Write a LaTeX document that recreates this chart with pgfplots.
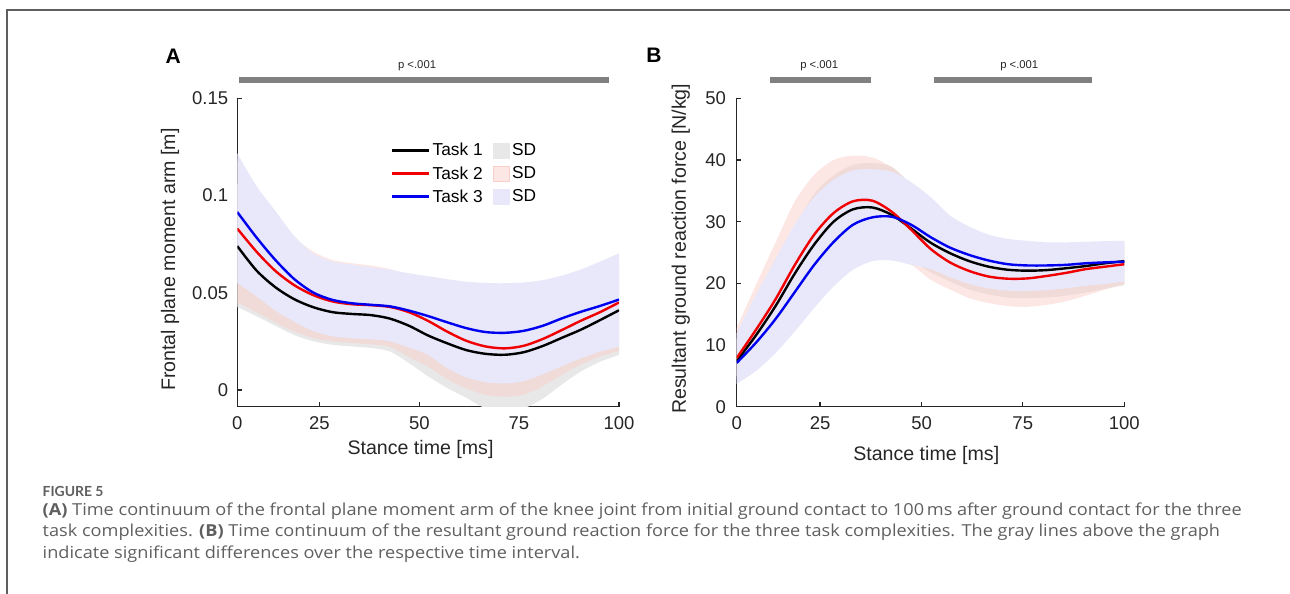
\documentclass[border=0pt]{standalone}
\usepackage{fontspec}
\setmainfont{Liberation Sans}
\newfontfamily\figfont{Lato}
\newfontfamily\capfont[FakeStretch=1.1]{Open Sans}
\usepackage{pgfplots}
\usepackage{pgfplotstable}
\pgfplotsset{compat=1.18}
\usepgfplotslibrary{fillbetween}

\definecolor{axgray}{RGB}{38,38,38}
\definecolor{sigbar}{RGB}{128,128,128}
\definecolor{sdgray}{RGB}{232,232,232}
\definecolor{sdpink}{RGB}{249,207,201}
\definecolor{sdblue}{RGB}{232,232,250}
\definecolor{tred}{RGB}{240,0,0}
\definecolor{tblue}{RGB}{0,0,240}
\definecolor{capgray}{RGB}{95,95,95}
\definecolor{frame}{RGB}{95,95,95}

% panel A: frontal plane moment arm (m); x is the drawn position of stance time
% columns: mean task 1-3, then upper/lower SD limit per task
\pgfplotstableread{
x    m1     m2     m3     u1     l1      u2     l2      u3     l3
0    0.0740 0.0830 0.0915 0.1060 0.0427  0.1180 0.0450  0.1217 0.0550
5    0.0615 0.0712 0.0785 0.0900 0.0380  0.1020 0.0400  0.1050 0.0482
10   0.0528 0.0612 0.0668 0.0780 0.0330  0.0900 0.0348  0.0920 0.0408
15   0.0466 0.0538 0.0569 0.0690 0.0282  0.0785 0.0300  0.0790 0.0351
20   0.0425 0.0487 0.0500 0.0630 0.0250  0.0710 0.0267  0.0700 0.0302
25   0.0400 0.0455 0.0463 0.0600 0.0232  0.0668 0.0250  0.0660 0.0276
30   0.0391 0.0441 0.0446 0.0580 0.0224  0.0652 0.0242  0.0645 0.0266
35   0.0385 0.0436 0.0438 0.0570 0.0216  0.0640 0.0235  0.0632 0.0261
40   0.0367 0.0427 0.0430 0.0550 0.0198  0.0622 0.0222  0.0618 0.0250
45   0.0330 0.0400 0.0408 0.0520 0.0138  0.0590 0.0170  0.0600 0.0218
50   0.0280 0.0355 0.0380 0.0490 0.0070  0.0560 0.0120  0.0585 0.0180
55   0.0240 0.0300 0.0348 0.0470 0.0010  0.0530 0.0055  0.0570 0.0112
60   0.0205 0.0253 0.0318 0.0460 -0.0040 0.0500 0.0008  0.0557 0.0065
65   0.0186 0.0224 0.0298 0.0460 -0.0095 0.0480 -0.0024 0.0550 0.0040
70   0.0181 0.0214 0.0294 0.0470 -0.0115 0.0475 -0.0034 0.0549 0.0034
75   0.0194 0.0227 0.0304 0.0480 -0.0095 0.0480 -0.0024 0.0553 0.0045
80   0.0226 0.0262 0.0330 0.0500 -0.0045 0.0500 0.0020  0.0565 0.0080
85   0.0268 0.0308 0.0368 0.0520 0.0028  0.0530 0.0078  0.0588 0.0122
90   0.0310 0.0356 0.0402 0.0540 0.0095  0.0570 0.0130  0.0620 0.0163
95   0.0359 0.0400 0.0432 0.0570 0.0145  0.0610 0.0172  0.0660 0.0197
100  0.0410 0.0450 0.0465 0.0630 0.0180  0.0660 0.0200  0.0703 0.0222
}\dataA

% panel B: resultant ground reaction force (N/kg)
\pgfplotstableread{
x    m1    m2    m3    u1   l1   u2   l2   u3    l3
0    7.40  7.90  7.10  11.0 5.0  12.8 4.5  11.9  3.7
5    11.60 12.50 10.40 17.0 7.6  19.8 7.0  18.2  5.8
10   16.30 17.40 14.20 23.0 11.0 26.6 10.5 23.9  8.7
15   21.60 23.00 18.60 29.0 15.0 33.3 14.5 29.6  12.2
20   26.30 27.90 23.00 34.5 19.0 37.6 18.5 34.0  16.0
25   30.00 31.40 26.70 37.5 22.0 40.0 21.5 36.8  19.5
30   32.00 33.30 29.50 39.2 24.0 40.7 23.5 38.3  22.2
35   32.30 33.40 30.70 39.5 24.8 40.4 24.3 38.5  23.6
40   31.10 31.60 30.80 38.9 24.6 38.8 24.0 38.1  23.7
45   28.90 28.70 29.50 36.0 23.6 36.0 23.0 36.4  23.0
50   26.60 25.60 27.50 32.5 21.8 32.5 20.6 34.0  22.3
55   24.90 23.40 25.80 29.5 20.3 29.5 19.0 31.0  21.0
60   23.60 22.00 24.60 27.8 19.0 27.3 17.6 29.2  19.9
65   22.70 21.10 23.70 26.8 18.2 26.0 16.8 27.9  19.2
70   22.20 20.75 23.10 26.3 17.7 25.3 16.3 27.2  18.8
75   22.05 20.80 22.90 26.1 17.6 25.0 16.2 26.9  18.75
80   22.15 21.20 22.90 26.1 17.7 25.0 16.5 26.65 18.9
85   22.45 21.70 23.00 26.2 18.0 25.2 17.1 26.65 19.2
90   22.80 22.30 23.25 26.4 18.5 25.5 18.0 26.75 19.6
95   23.25 22.70 23.40 26.6 19.1 25.9 19.0 26.85 19.9
100  23.60 23.10 23.50 26.8 19.7 26.2 19.9 26.9  20.3
}\dataB

\pgfplotsset{
  panel/.style={
    scale only axis, anchor=south west,
    xmin=0, xmax=100,
    axis x line*=bottom, axis y line*=left,
    axis line style={axgray, line width=1.2pt, -},
    tick style={axgray, line width=1.2pt},
    tick align=inside, major tick length=4.5pt,
    xtick={0,21.5,47.7,73.8,100}, xticklabels={0,25,50,75,100},
    ticklabel style={font=\fontsize{18.5}{18.5}\selectfont, text=axgray, inner sep=0pt},
    xticklabel style={yshift=-10pt},
    label style={font=\fontsize{19.6}{19.6}\selectfont, text=axgray, anchor=center},
    clip mode=individual,
  },
  sd/.style={draw=none, smooth, forget plot},
  task/.style={line width=2.4pt, smooth, forget plot},
}

\begin{document}
\begin{tikzpicture}
\draw[frame, line width=1.3pt] (7pt,-594pt) -- (7pt,-10pt) -- (1290pt,-10pt);

\node[font=\bfseries\fontsize{21}{21}\selectfont] at (173.3pt,-55.8pt) {A};
\node[font=\bfseries\fontsize{21}{21}\selectfont] at (654pt,-55pt) {B};

% ---------- A ----------
\begin{axis}[panel,
  at={(237.3pt,-406.7pt)}, width=381.7pt, height=308.4pt,
  ymin=-0.0086, ymax=0.15,
  ytick={0,0.05,0.1,0.15}, yticklabels={0,0.05,0.1,0.15},
  yticklabel style={xshift=-9pt},
  xlabel={Stance time [ms]}, ylabel={Frontal plane moment arm [m]},
  xlabel style={at={(axis description cs:0.48,-0.140)}},
  ylabel style={at={(axis description cs:-0.176,0.477)}},
  legend columns=2, legend cell align=left,
  legend style={draw=none, fill=none, at={(0.402,0.862)}, anchor=north west,
    font=\fontsize{17.3}{17.3}\selectfont, inner sep=0pt, row sep=4.5pt,
    nodes={inner sep=2.3pt, text=black},
    /tikz/every even column/.append style={column sep=8pt}},
]
\addplot[sd, name path=a1u] table[x=x, y=u1] {\dataA};
\addplot[sd, name path=a1l] table[x=x, y=l1] {\dataA};
\addplot[fill=sdgray, draw=none, forget plot] fill between[of=a1u and a1l];
\addplot[sd, name path=a2u] table[x=x, y=u2] {\dataA};
\addplot[sd, name path=a2l] table[x=x, y=l2] {\dataA};
\addplot[fill=sdpink, fill opacity=0.5, draw=none, forget plot] fill between[of=a2u and a2l];
\addplot[sd, name path=a3u] table[x=x, y=u3] {\dataA};
\addplot[sd, name path=a3l] table[x=x, y=l3] {\dataA};
\addplot[fill=sdblue, draw=none, forget plot] fill between[of=a3u and a3l];

\addplot[task, black] table[x=x, y=m1] {\dataA};
\addplot[task, tred]  table[x=x, y=m2] {\dataA};
\addplot[task, tblue] table[x=x, y=m3] {\dataA};

\addlegendimage{legend image code/.code={\draw[black, line width=2.4pt] (0pt,0pt) -- (37pt,0pt);}}
\addlegendentry{Task 1}
\addlegendimage{legend image code/.code={\fill[sdgray] (0pt,-7.5pt) rectangle (16.5pt,7.5pt);}}
\addlegendentry{SD}
\addlegendimage{legend image code/.code={\draw[tred, line width=2.4pt] (0pt,0pt) -- (37pt,0pt);}}
\addlegendentry{Task 2}
\addlegendimage{legend image code/.code={\fill[sdpink, fill opacity=0.5] (0pt,-7.5pt) rectangle (16.5pt,7.5pt);}}
\addlegendentry{SD}
\addlegendimage{legend image code/.code={\draw[tblue, line width=2.4pt] (0pt,0pt) -- (37pt,0pt);}}
\addlegendentry{Task 3}
\addlegendimage{legend image code/.code={\fill[sdblue] (0pt,-7.5pt) rectangle (16.5pt,7.5pt);}}
\addlegendentry{SD}

\draw[sigbar, line width=6pt] (axis cs:0.45,0.1594) -- (axis cs:97.4,0.1594);
\node[anchor=base, font=\fontsize{11.3}{11.3}\selectfont, text=axgray] at (axis cs:47.1,0.1654) {p <.001};
\end{axis}

% ---------- B ----------
\begin{axis}[panel,
  at={(736.7pt,-406.7pt)}, width=387.6pt, height=308.4pt,
  ymin=0, ymax=50,
  ytick={0,10,20,30,40,50}, yticklabels={0,10,20,30,40,50},
  yticklabel style={xshift=-10.5pt},
  xlabel={Stance time [ms]}, ylabel={Resultant ground reaction force [N/kg]},
  xlabel style={at={(axis description cs:0.489,-0.158)}},
  ylabel style={at={(axis description cs:-0.144,0.512)}},
]
\addplot[sd, name path=b1u] table[x=x, y=u1] {\dataB};
\addplot[sd, name path=b1l] table[x=x, y=l1] {\dataB};
\addplot[fill=sdgray, draw=none, forget plot] fill between[of=b1u and b1l];
\addplot[sd, name path=b2u] table[x=x, y=u2] {\dataB};
\addplot[sd, name path=b2l] table[x=x, y=l2] {\dataB};
\addplot[fill=sdpink, fill opacity=0.5, draw=none, forget plot] fill between[of=b2u and b2l];
\addplot[sd, name path=b3u] table[x=x, y=u3] {\dataB};
\addplot[sd, name path=b3l] table[x=x, y=l3] {\dataB};
\addplot[fill=sdblue, draw=none, forget plot] fill between[of=b3u and b3l];

\addplot[task, black] table[x=x, y=m1] {\dataB};
\addplot[task, tred]  table[x=x, y=m2] {\dataB};
\addplot[task, tblue] table[x=x, y=m3] {\dataB};

\draw[sigbar, line width=6pt] (axis cs:8.6,52.97) -- (axis cs:34.6,52.97);
\draw[sigbar, line width=6pt] (axis cs:50.9,52.97) -- (axis cs:91.7,52.97);
\node[anchor=base, font=\fontsize{11.3}{11.3}\selectfont, text=axgray] at (axis cs:21.3,54.91) {p <.001};
\node[anchor=base, font=\fontsize{11.3}{11.3}\selectfont, text=axgray] at (axis cs:72.9,54.91) {p <.001};
\end{axis}

% ---------- caption ----------
\begin{scope}[every node/.style={anchor=base west, inner sep=0pt, text=capgray}]
\node[font=\figfont\bfseries\fontsize{13.9}{13.9}\selectfont] at (42.5pt,-496.7pt) {FIGURE 5};
\node[font=\capfont\fontsize{16.5}{16.5}\selectfont] at (42.5pt,-515pt)
  {\textbf{(A)} Time continuum of the frontal plane moment arm of the knee joint from initial ground contact to 100\,ms after ground contact for the three};
\node[font=\capfont\fontsize{16.5}{16.5}\selectfont] at (42.5pt,-536.7pt)
  {task complexities. \textbf{(B)} Time continuum of the resultant ground reaction force for the three task complexities. The gray lines above the graph};
\node[font=\capfont\fontsize{16.5}{16.5}\selectfont] at (42.5pt,-558.3pt)
  {indicate significant differences over the respective time interval.};
\end{scope}

\pgfresetboundingbox
\path[use as bounding box] (0pt,0pt) rectangle (1290pt,-594pt);
\end{tikzpicture}
\end{document}
